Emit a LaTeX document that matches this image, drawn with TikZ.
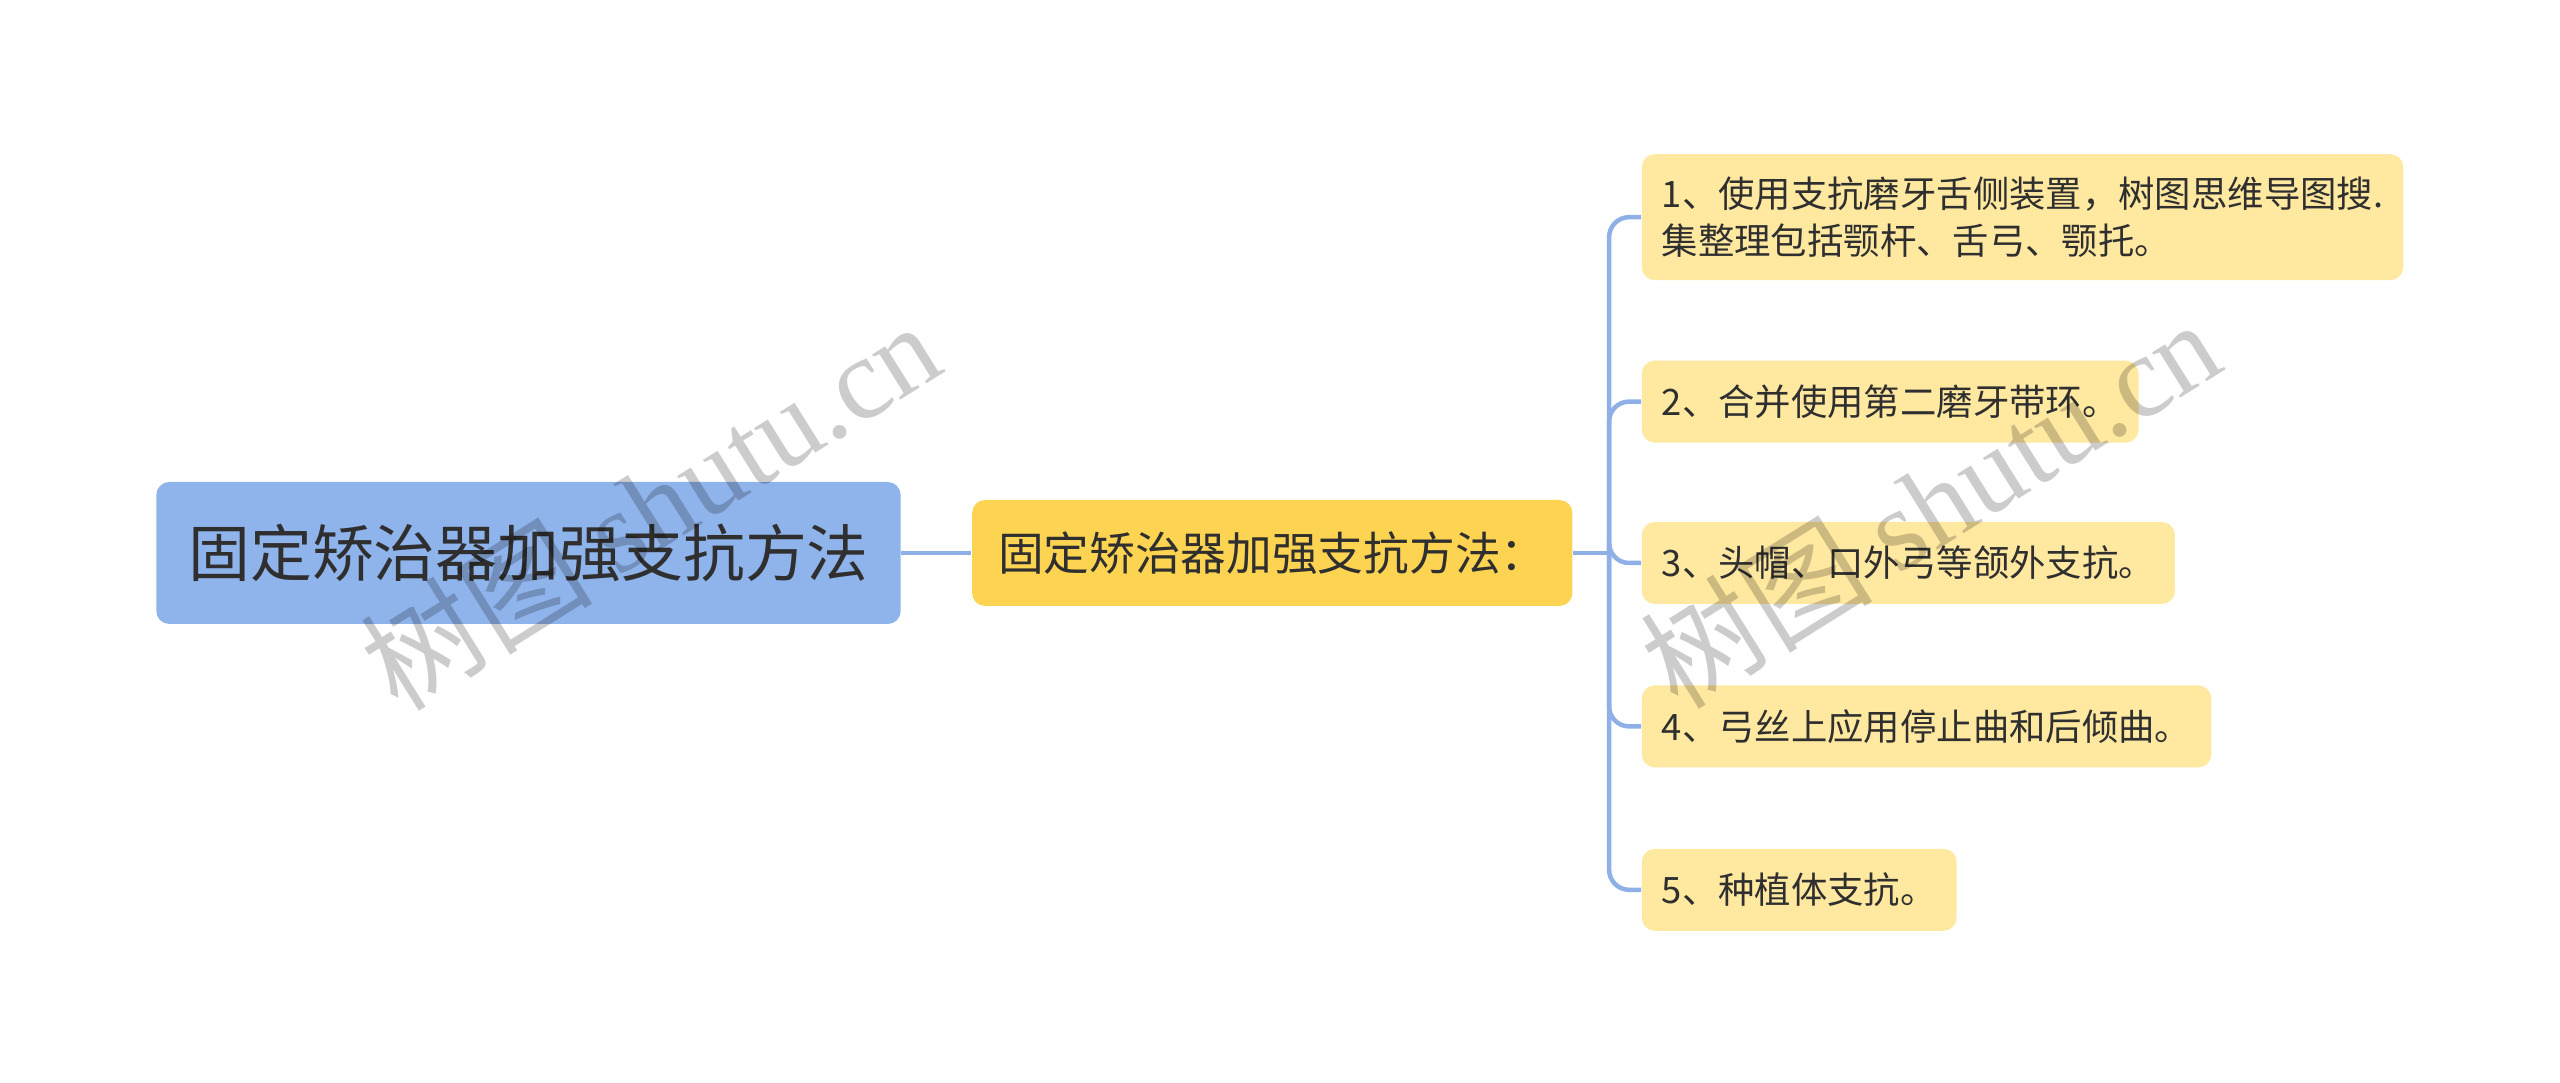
\documentclass[tikz,border=0pt]{standalone}
\usepackage{fontspec}
\setmainfont{Noto Sans CJK SC}
\newfontfamily\wmfont{Liberation Serif}
\usetikzlibrary{positioning}
\definecolor{rootblue}{HTML}{8FB3EB}
\definecolor{midyellow}{HTML}{FDD352}
\definecolor{leafyellow}{HTML}{FFE8A0}
\definecolor{linkblue}{HTML}{8EB0E7}
\definecolor{inkgray}{HTML}{2F2F2F}

\begin{document}
\begin{tikzpicture}[
		box/.style={rounded corners=0.13cm, text=inkgray},
		rootbox/.style={box, fill=rootblue, minimum height=1.42cm, inner xsep=0.32cm, font=\fontsize{17.6}{21}\selectfont},
		midbox/.style={box, fill=midyellow, minimum height=1.06cm, inner xsep=0.26cm, font=\fontsize{13}{16}\selectfont},
		leaf/.style={box, fill=leafyellow, minimum height=0.82cm, inner xsep=0.2cm, align=left, font=\fontsize{10.35}{13.6}\selectfont},
		link/.style={draw=linkblue, line width=0.045cm, rounded corners=0.2cm},
		watermark/.style={text=black, text opacity=0.2, rotate=32, font=\fontsize{33}{33}\selectfont}
	]
			\useasboundingbox (0,0) rectangle (25.6,10.83);
			
			\node [rootbox] (root) at (5.285,5.30) {固定矫治器加强支抗方法};
			\node [midbox, right=0.7cm of root] (method) {固定矫治器加强支抗方法：};
			\coordinate [right=0.36cm of method] (trunk);
			
			\node [leaf, right=0.68cm of method, yshift=-0.1cm] (s3) {3、头帽、口外弓等颌外支抗。};
			\node [leaf, above=0.78cm of s3.north west, anchor=south west] (s2) {2、合并使用第二磨牙带环。};
			\node [leaf, above=0.79cm of s2.north west, anchor=south west, minimum height=1.26cm] (s1) {1、使用支抗磨牙舌侧装置，树图思维导图搜.\\集整理包括颚杆、舌弓、颚托。};
			\node [leaf, below=0.8cm of s3.south west, anchor=north west] (s4) {4、弓丝上应用停止曲和后倾曲。};
			\node [leaf, below=0.8cm of s4.south west, anchor=north west] (s5) {5、种植体支抗。};
			
			\draw [link] (root) -- (method);
			\draw [link] (method) -- (trunk);
			\foreach \s in {s1,s2,s3,s4,s5}
				\draw [link] (trunk) |- (\s.west);
			
			\node [watermark] (wm1) at (6.5,5.78) {树图 {\wmfont shutu.cn}};
			\node [watermark] (wm2) at (19.3,5.8) {树图 {\wmfont shutu.cn}};
		\end{tikzpicture}
\end{document}
